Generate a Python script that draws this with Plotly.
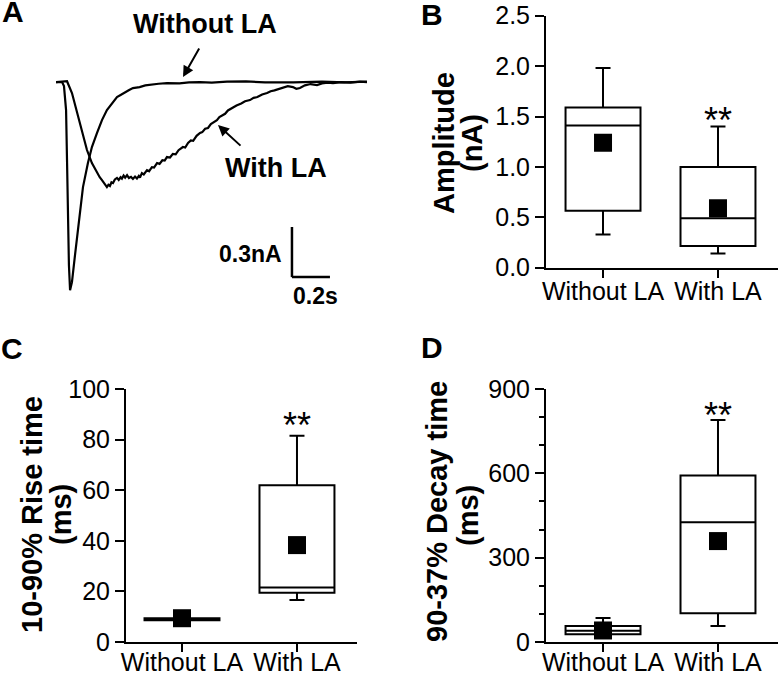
import plotly.graph_objects as go

W, H = 778, 674

# ---------------- data ----------------
# Panel A: example current traces (time in s, current in nA)
T_WITHOUT = [0, 0.032, 0.042, 0.053, 0.058, 0.063, 0.068, 0.074, 0.084, 0.100, 0.116, 0.126,
             0.142, 0.168, 0.189, 0.216, 0.242, 0.268, 0.295, 0.321, 0.340, 0.363, 0.385, 0.405,
             0.440, 0.470, 0.495, 0.540, 0.584, 0.650, 0.700, 0.758, 0.820, 0.900, 1.000, 1.100,
             1.250, 1.400, 1.520, 1.637]
I_WITHOUT = [0, 0, -0.024, -0.168, -0.467, -0.826, -1.096, -1.246, -1.198, -1.036, -0.886, -0.778,
             -0.629, -0.485, -0.389, -0.305, -0.228, -0.168, -0.126, -0.090, -0.078, -0.060, -0.048,
             -0.036, -0.030, -0.020, -0.018, -0.010, -0.006, -0.008, -0.002, 0.0, -0.004, 0.002,
             0.004, -0.002, -0.002, 0.003, -0.002, 0.003]
T_WITH = [0, 0.058, 0.084, 0.111, 0.137, 0.163, 0.189, 0.205, 0.216, 0.230, 0.242, 0.255, 0.268,
          0.276, 0.284, 0.292, 0.300, 0.310, 0.321, 0.330, 0.340, 0.347, 0.356, 0.364, 0.374,
          0.384, 0.395, 0.405, 0.416, 0.426, 0.436, 0.442, 0.452, 0.462, 0.479, 0.490, 0.505,
          0.516, 0.532, 0.545, 0.560, 0.572, 0.584, 0.600, 0.615, 0.630, 0.645, 0.668, 0.680,
          0.695, 0.710, 0.722, 0.740, 0.758, 0.770, 0.785, 0.800, 0.815, 0.830, 0.847, 0.860,
          0.875, 0.890, 0.905, 0.920, 0.932, 0.950, 0.975, 0.995, 1.021, 1.040, 1.060, 1.085,
          1.111, 1.130, 1.150, 1.175, 1.195, 1.220, 1.247, 1.265, 1.284, 1.310, 1.340, 1.374,
          1.400, 1.430, 1.458, 1.500, 1.550, 1.600, 1.637]
I_WITH = [0, 0.005, -0.066, -0.186, -0.305, -0.407, -0.485, -0.520, -0.545, -0.570, -0.587, -0.610,
          -0.629, -0.615, -0.622, -0.600, -0.605, -0.583, -0.574, -0.586, -0.570, -0.578, -0.560,
          -0.572, -0.557, -0.575, -0.568, -0.580, -0.566, -0.578, -0.562, -0.572, -0.545, -0.553,
          -0.527, -0.534, -0.510, -0.512, -0.485, -0.490, -0.468, -0.470, -0.449, -0.452, -0.430,
          -0.433, -0.408, -0.389, -0.392, -0.365, -0.350, -0.352, -0.322, -0.305, -0.300, -0.280,
          -0.275, -0.252, -0.240, -0.228, -0.210, -0.200, -0.190, -0.170, -0.160, -0.150, -0.140,
          -0.128, -0.115, -0.108, -0.095, -0.090, -0.075, -0.066, -0.055, -0.050, -0.040, -0.036,
          -0.025, -0.030, -0.040, -0.036, -0.020, -0.012, -0.018, -0.008, -0.004, -0.006, 0.0,
          -0.004, 0.002, 0.0]
SCALE_T = 0.2   # s
SCALE_I = 0.3   # nA

CATS = ["Without LA", "With LA"]

# Panel B: amplitude (nA)
AMP_MIN = [0.33, 0.14]
AMP_Q1 = [0.565, 0.215]
AMP_MED = [1.41, 0.49]
AMP_Q3 = [1.59, 1.00]
AMP_MAX = [1.98, 1.40]
AMP_MEAN = [1.24, 0.59]

# Panel C: 10-90% rise time (ms)
RISE_MIN = [8.0, 16.6]
RISE_Q1 = [8.6, 19.5]
RISE_MED = [9.0, 21.5]
RISE_Q3 = [9.4, 62.0]
RISE_MAX = [10.0, 81.5]
RISE_MEAN = [9.4, 38.3]

# Panel D: 90-37% decay time (ms)
DEC_MIN = [15, 57]
DEC_Q1 = [28, 102]
DEC_MED = [40, 426]
DEC_Q3 = [57, 592]
DEC_MAX = [85, 790]
DEC_MEAN = [41, 359]

# ---------------- helpers ----------------
FONT = "Arial, Liberation Sans, Helvetica, sans-serif"


def pxx(x):
    return x / W


def pxy(y):
    return 1 - y / H


fig = go.Figure()

# Panel A traces
for t, i in ((T_WITHOUT, I_WITHOUT), (T_WITH, I_WITH)):
    fig.add_trace(go.Scatter(x=t, y=i, mode="lines", xaxis="x", yaxis="y",
                             line=dict(color="black", width=2.2), hoverinfo="skip"))


def add_box_panel(ax, lo, q1, med, q3, hi, mean):
    xa, ya = ("x" + ax, "y" + ax)
    fig.add_trace(go.Box(x=[0, 1], q1=q1, median=med, q3=q3, lowerfence=lo, upperfence=hi,
                         xaxis=xa, yaxis=ya, width=0.652, whiskerwidth=0.2,
                         line=dict(color="black", width=2), fillcolor="white",
                         boxpoints=False, hoverinfo="skip"))
    fig.add_trace(go.Scatter(x=[0, 1], y=mean, mode="markers", xaxis=xa, yaxis=ya,
                             marker=dict(symbol="square", size=18, color="black"),
                             hoverinfo="skip"))


add_box_panel("2", AMP_MIN, AMP_Q1, AMP_MED, AMP_Q3, AMP_MAX, AMP_MEAN)
add_box_panel("3", RISE_MIN, RISE_Q1, RISE_MED, RISE_Q3, RISE_MAX, RISE_MEAN)
add_box_panel("4", DEC_MIN, DEC_Q1, DEC_MED, DEC_Q3, DEC_MAX, DEC_MEAN)

tickfont = dict(family=FONT, size=25, color="black")


def cat_xaxis(domain, rng, anchor, standoff):
    return dict(domain=domain, range=rng, anchor=anchor, tickvals=[0, 1], ticktext=CATS,
                ticks="outside", ticklen=8, tickwidth=2, tickcolor="black",
                showline=True, linewidth=2, linecolor="black", showgrid=False,
                zeroline=False, tickfont=tickfont, fixedrange=True, automargin=False,
                ticklabelstandoff=standoff)


def val_yaxis(domain, rng, anchor, dtick, fmt, minor=None):
    d = dict(domain=domain, range=rng, anchor=anchor, dtick=dtick, tick0=0, tickformat=fmt,
             ticks="outside", ticklen=9, tickwidth=2, tickcolor="black",
             showline=True, linewidth=2, linecolor="black", showgrid=False,
             zeroline=False, tickfont=tickfont, fixedrange=True, automargin=False)
    if minor:
        d["minor"] = minor
    return d


fig.update_layout(
    width=W, height=H,
    margin=dict(l=0, r=0, t=0, b=0, autoexpand=False),
    paper_bgcolor="white", plot_bgcolor="white",
    showlegend=False,
    font=dict(family=FONT, color="black"),
    xaxis=dict(domain=[pxx(56), pxx(367)], range=[0, 1.637], visible=False, anchor="y",
               automargin=False),
    yaxis=dict(domain=[pxy(300), pxy(60)], range=[-1.305, 0.132], visible=False, anchor="x",
               automargin=False),
    xaxis2=cat_xaxis([pxx(546), 1.0], [-0.496, 1.522], "y2", -8),
    yaxis2=val_yaxis([pxy(267.7), pxy(15.7)], [0, 2.5], "x2", 0.5, ".1f"),
    xaxis3=cat_xaxis([pxx(126), pxx(357)], [-0.487, 1.522], "y3", -11),
    yaxis3=val_yaxis([pxy(642), pxy(389)], [0, 100], "x3", 20, "d"),
    xaxis4=cat_xaxis([pxx(546), 1.0], [-0.496, 1.522], "y4", -11),
    yaxis4=val_yaxis([pxy(642), pxy(389)], [0, 900], "x4", 300, "d",
                     minor=dict(dtick=100, ticks="outside", ticklen=5, tickwidth=2,
                                tickcolor="black")),
)

# Scale bar (panel A), drawn in data units
T0, I0 = 1.242, -1.168
fig.add_shape(type="line", xref="x", yref="y", x0=T0, x1=T0, y0=I0, y1=I0 + SCALE_I,
              line=dict(color="black", width=2.5))
fig.add_shape(type="line", xref="x", yref="y", x0=T0, x1=T0 + SCALE_T, y0=I0, y1=I0,
              line=dict(color="black", width=2.5))

ann = []


def text(x, y, s, size, bold=True, angle=0, xanchor="center"):
    ann.append(dict(x=pxx(x), y=pxy(y), xref="paper", yref="paper", text=("<b>%s</b>" % s) if bold else s,
                    showarrow=False, xanchor=xanchor, yanchor="middle", textangle=angle,
                    font=dict(family=FONT, size=size, color="black")))


# panel letters
text(13, 12, "A", 30)
text(432, 14, "B", 30)
text(12, 349, "C", 30)
text(432, 348, "D", 30)

# panel A labels
text(205, 24, "Without LA", 27)
text(276, 168, "With LA", 27)
text(284, 254, "0.3nA", 23, xanchor="right")
text(315, 296, "0.2s", 23)

# arrows in A
for hx, hy, tx, ty in ((183, 77, 200, 47), (218, 125, 242, 147)):
    ann.append(dict(x=pxx(hx), y=pxy(hy), xref="paper", yref="paper", text="", showarrow=True,
                    ax=tx - hx, ay=ty - hy, arrowhead=2, arrowsize=1.1, arrowwidth=2,
                    arrowcolor="black"))

# axis titles
text(444, 143, "Amplitude", 29, angle=-90)
text(472, 143, "(nA)", 29, angle=-90)
text(32, 515, "10-90% Rise time", 29, angle=-90)
text(61, 515, "(ms)", 29, angle=-90)
text(437, 512, "90-37% Decay time", 29, angle=-90)
text(468, 515, "(ms)", 29, angle=-90)

# significance stars
for ax, yv in (("2", 1.465), ("3", 85.4), ("4", 804)):
    ann.append(dict(x=1, y=yv, xref="x" + ax, yref="y" + ax, text="**", showarrow=False,
                    xanchor="center", yanchor="middle",
                    font=dict(family=FONT, size=36, color="black")))

fig.update_layout(annotations=ann)
fig.write_html("out.html", config={"displayModeBar": False},
               post_script="document.body.style.margin='0';document.body.style.overflow='hidden';")
